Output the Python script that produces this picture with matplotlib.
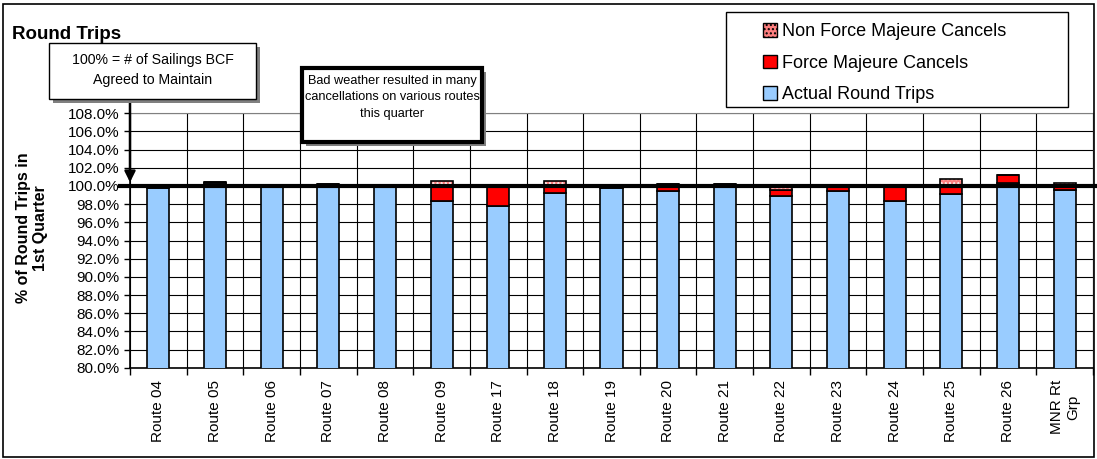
import numpy as np
import matplotlib.pyplot as plt
from matplotlib.patches import Rectangle, Patch
from matplotlib.ticker import FixedLocator, FuncFormatter

plt.rcParams['font.family'] = ['Liberation Sans', 'DejaVu Sans']

# Data (percent of sailings BCF agreed to maintain)
routes = ['Route 04', 'Route 05', 'Route 06', 'Route 07', 'Route 08', 'Route 09',
          'Route 17', 'Route 18', 'Route 19', 'Route 20', 'Route 21', 'Route 22',
          'Route 23', 'Route 24', 'Route 25', 'Route 26', 'MNR Rt\nGrp']
actual = [99.8, 100.3, 100.0, 100.1, 100.0, 98.3, 97.8, 99.2, 99.8, 99.5,
          99.9, 98.9, 99.5, 98.3, 99.1, 100.3, 99.6]
force_majeure = [0.2, 0.1, 0.15, 0.15, 0.1, 1.85, 2.25, 0.9, 0.25, 0.7,
                 0.3, 0.7, 0.65, 1.75, 0.95, 0.95, 0.5]
non_force_majeure = [0.0, 0.05, 0.0, 0.0, 0.0, 0.45, 0.0, 0.4, 0.0, 0.0,
                     0.0, 0.5, 0.0, 0.0, 0.7, 0.0, 0.2]
yticks = np.arange(80, 109, 2)

W, H = 1097, 459
fig = plt.figure(figsize=(W / 100, H / 100), dpi=100)
ax = fig.add_axes([130 / W, 1 - 367.7 / H, 963 / W, (367.7 - 113.3) / H])

x = np.arange(len(routes))
actual = np.array(actual)
fm = np.array(force_majeure)
nfm = np.array(non_force_majeure)
bw = 0.39

blue = '#99CCFF'
red = '#FF0000'
pink = '#FF8080'

ax.bar(x, actual, bw, color=blue, edgecolor='black', lw=1.2, zorder=3)
ax.bar(x, fm, bw, bottom=actual, color=red, edgecolor='black', lw=1.2, zorder=3)
# pattern fill for non force majeure, then outline
ax.bar(x, nfm, bw, bottom=actual + fm, color=pink, edgecolor='white', hatch='....',
       lw=0, zorder=3)
ax.bar(x, nfm, bw, bottom=actual + fm, color='none', edgecolor='black', lw=1.2, zorder=3)

ax.set_xlim(-0.5, len(routes) - 0.5)
ax.set_ylim(80, 108)
ax.yaxis.set_major_locator(FixedLocator(yticks))
ax.yaxis.set_major_formatter(FuncFormatter(lambda v, p: '%.1f%%' % v))
ax.tick_params(axis='y', labelsize=11, length=4, width=1, direction='out')

ax.set_xticks(x)
ax.set_xticklabels(routes, rotation=90, fontsize=11, va='top', ha='center',
                   multialignment='center')
ax.set_xticks(np.arange(len(routes) + 1) - 0.5, minor=True)
ax.tick_params(axis='x', which='major', length=0, pad=9)
ax.tick_params(axis='x', which='minor', length=5, width=1, direction='out')

ax.grid(True, which='minor', axis='x', color='black', lw=0.8, zorder=0)
ax.grid(True, which='major', axis='y', color='black', lw=0.8, zorder=0)
for s in ['top', 'right']:
    ax.spines[s].set_color('#808080')
for s in ['left', 'bottom']:
    ax.spines[s].set_color('black')
    ax.spines[s].set_linewidth(1.2)

# 100% reference line and arrow
ax.axhline(100, xmin=-0.0104, xmax=1.005, color='black', lw=3, zorder=4, clip_on=False)
ax.annotate('', xy=(-0.5, 100.1), xytext=(-0.5, 109.45), annotation_clip=False,
            arrowprops=dict(arrowstyle='-|>', color='black', lw=1.8, mutation_scale=16))

# text boxes (pixel coords from top-left)
def box(x0, y0, x1, y1, lw):
    fig.patches.append(Rectangle((x0 / W + 4 / W, 1 - y1 / H - 4 / H), (x1 - x0) / W,
                                 (y1 - y0) / H, transform=fig.transFigure,
                                 facecolor='#808080', edgecolor='none', zorder=5))
    fig.patches.append(Rectangle((x0 / W, 1 - y1 / H), (x1 - x0) / W, (y1 - y0) / H,
                                 transform=fig.transFigure, facecolor='white',
                                 edgecolor='black', lw=lw, zorder=6))

box(49, 43, 256, 99, 1)
fig.text(152.5 / W, 1 - 70 / H, '100% = # of Sailings BCF\nAgreed to Maintain',
         ha='center', va='center', fontsize=10.2, linespacing=1.55, zorder=7)
box(302, 68, 482, 142, 3)
fig.text(392 / W, 1 - 97.5 / H, 'Bad weather resulted in many\ncancellations on various routes\nthis quarter',
         ha='center', va='center', fontsize=9.2, linespacing=1.5, zorder=7)

# legend
fig.patches.append(Rectangle((726 / W, 1 - 107 / H), 342 / W, 95 / H,
                             transform=fig.transFigure, facecolor='white',
                             edgecolor='black', lw=1, zorder=1))
handles = [Patch(facecolor=pink, edgecolor='black', hatch='....', lw=1),
           Patch(facecolor=red, edgecolor='black', lw=1),
           Patch(facecolor=blue, edgecolor='black', lw=1)]
labels = ['Non Force Majeure Cancels', 'Force Majeure Cancels', 'Actual Round Trips']
leg = fig.legend(handles, labels, loc='upper left', bbox_to_anchor=(748 / W, 1 - 8 / H),
                 frameon=False, fontsize=13, handlelength=0.75, handleheight=0.75,
                 handletextpad=0.3, labelspacing=0.8, borderpad=0.35)

fig.text(12 / W, 1 - 39 / H, 'Round Trips', fontsize=13.5, fontweight='bold', va='baseline')
fig.text(32 / W, 1 - 228 / H, '% of Round Trips in\n1st Quarter', rotation=90,
         ha='center', va='center', fontsize=11.5, fontweight='bold', multialignment='center')

# outer chart border
fig.patches.append(Rectangle((3 / W, 2 / H), 1091 / W, 453 / H, transform=fig.transFigure,
                             facecolor='none', edgecolor='black', lw=1.2, zorder=10))

fig.savefig('out.png', dpi=100)
